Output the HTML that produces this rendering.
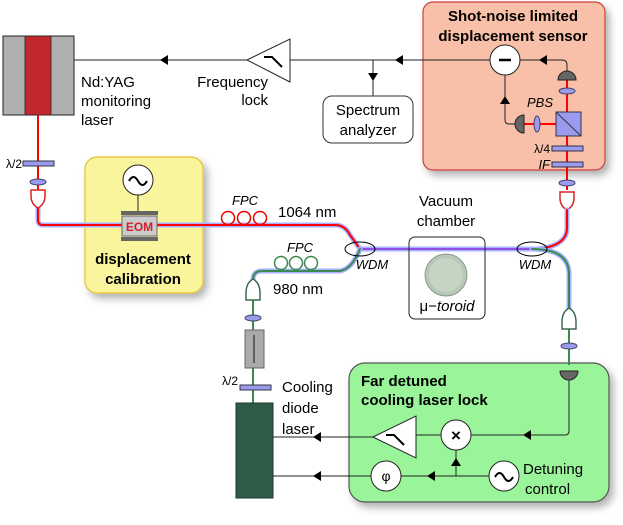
<!DOCTYPE html>
<html><head><meta charset="utf-8"><style>body{margin:0;background:#fff}svg{display:block;font-family:"Liberation Sans",sans-serif}</style></head><body>
<svg width="623" height="525" viewBox="0 0 623 525" xmlns="http://www.w3.org/2000/svg">
<defs>
<marker id="a" viewBox="0 0 10 10" refX="5" refY="5" markerWidth="8" markerHeight="8" orient="auto"><path d="M0,0L10,5L0,10z" fill="#000"/></marker>
<filter id="sh" x="-10%" y="-10%" width="130%" height="130%"><feDropShadow dx="4" dy="5" stdDeviation="4" flood-color="#000" flood-opacity="0.3"/></filter>
</defs>
<!-- boxes -->
<rect x="423" y="2" width="182" height="168" rx="10" fill="#f8c0a8" stroke="#c84040" stroke-width="1.2" filter="url(#sh)"/>
<rect x="85" y="157" width="118" height="136" rx="12" fill="#f9f59d" stroke="#e8c030" stroke-width="1.2" filter="url(#sh)"/>
<rect x="349" y="363" width="260" height="139" rx="16" fill="#9af59a" stroke="#555" stroke-width="1.2" filter="url(#sh)"/>
<!-- laser -->
<rect x="3" y="36" width="71" height="79" fill="#b0b0b0" stroke="#222"/>
<rect x="25" y="36" width="26" height="79" fill="#c0282e" stroke="#222" stroke-width="0.8"/>
<!-- electronics top -->
<line x1="74" y1="60" x2="247" y2="60" stroke="#222"/>
<path d="M160,60 l8,-5 v10z" fill="#000"/>
<path d="M247,60 L290,39 L290,82 Z" fill="#fff" stroke="#222"/>
<path d="M264,57 h8 l10,10" fill="none" stroke="#000" stroke-width="2"/>
<line x1="290" y1="60" x2="490" y2="60" stroke="#222"/>
<path d="M395,60 l8,-5 v10z" fill="#000"/>
<line x1="373" y1="60" x2="373" y2="96" stroke="#222"/>
<path d="M373,81 l-5,-8 h10z" fill="#000"/>
<rect x="323" y="96" width="90" height="47" rx="9" fill="#fff" stroke="#333"/>
<text x="368" y="115" font-size="15" text-anchor="middle">Spectrum</text>
<text x="368" y="135" font-size="15" text-anchor="middle">analyzer</text>
<text x="81" y="87" font-size="15">Nd:YAG</text>
<text x="81" y="106" font-size="15">monitoring</text>
<text x="81" y="125" font-size="15">laser</text>
<text x="268" y="87" font-size="15" text-anchor="end">Frequency</text>
<text x="268" y="105" font-size="15" text-anchor="end">lock</text>
<!-- sensor -->
<text x="513" y="21" font-size="15" font-weight="bold" text-anchor="middle">Shot-noise limited</text>
<text x="513" y="41" font-size="15" font-weight="bold" text-anchor="middle">displacement sensor</text>
<path d="M520,60 H562 q5,0 5,5 V72" fill="none" stroke="#222"/>
<path d="M539,60 l8,-5 v10z" fill="#000"/>
<path d="M505,75 V120 q0,4 4,4 H516" fill="none" stroke="#222"/>
<path d="M505,96 l-5,8 h10z" fill="#000"/>
<circle cx="505" cy="60" r="15" fill="#fff" stroke="#222"/>
<line x1="499" y1="60" x2="511" y2="60" stroke="#000" stroke-width="2.5"/>
<line x1="567" y1="80" x2="567" y2="190" stroke="#f00" stroke-width="2"/>
<line x1="522" y1="124" x2="556" y2="124" stroke="#f00" stroke-width="2"/>
<path d="M558,80 a9,9 0 0 1 18,0z" fill="#666" stroke="#222"/>
<path d="M524,115 a9,9 0 0 0 0,18z" fill="#666" stroke="#222"/>
<ellipse cx="567" cy="91" rx="8" ry="3" fill="#9a9aee" stroke="#446"/>
<ellipse cx="537" cy="124" rx="3" ry="8" fill="#9a9aee" stroke="#446"/>
<rect x="556" y="112" width="25" height="24" fill="#9a9aee" stroke="#334"/>
<line x1="556" y1="112" x2="581" y2="136" stroke="#334"/>
<text x="553" y="107" font-size="13" font-style="italic" text-anchor="end">PBS</text>
<rect x="552" y="146" width="31" height="5" fill="#9a9aee" stroke="#334"/>
<rect x="552" y="162" width="31" height="5" fill="#9a9aee" stroke="#334"/>
<text x="550" y="153" font-size="12" text-anchor="end">λ/4</text>
<text x="550" y="169" font-size="13" font-style="italic" text-anchor="end">IF</text>
<ellipse cx="567" cy="183" rx="8" ry="3" fill="#9a9aee" stroke="#446"/>
<path d="M560,192 h14 v6 q0,8 -7,12 q-7,-4 -7,-12z" fill="#fff" stroke="#d22" stroke-width="1.5"/>
<!-- fibers -->
<g fill="none" stroke-linecap="round">
<path d="M38,208 V220 q0,5 5,5 H335 q10,0 15,10 L360,249" stroke="#aab0ff" stroke-width="5"/>
<path d="M38,208 V220 q0,5 5,5 H335 q10,0 15,10 L360,249" stroke="#f00" stroke-width="2"/>
<path d="M567,210 V228 q0,18 -30,21" stroke="#aab0ff" stroke-width="5"/>
<path d="M567,210 V228 q0,18 -30,21" stroke="#f00" stroke-width="2"/>
<path d="M360,249 L532,249" stroke="#aab0ff" stroke-width="5"/>
<path d="M360,249 L532,249" stroke="#9050e0" stroke-width="2"/>
<path d="M360,249 q-8,20 -20,22 H262 q-9,0 -9,9 V291" stroke="#aab0ff" stroke-width="5"/>
<path d="M360,249 q-8,20 -20,22 H262 q-9,0 -9,9 V291" stroke="#3a8a50" stroke-width="2"/>
<path d="M532,249 q37,0 37,25 V320" stroke="#aab0ff" stroke-width="5"/>
<path d="M532,249 q37,0 37,25 V320" stroke="#3a8a50" stroke-width="2"/>
</g>
<line x1="38" y1="115" x2="38" y2="190" stroke="#f00" stroke-width="2"/>
<rect x="23" y="161" width="31" height="5" fill="#9a9aee" stroke="#334"/>
<text x="22" y="168" font-size="12" text-anchor="end">λ/2</text>
<ellipse cx="38" cy="182" rx="8" ry="3" fill="#9a9aee" stroke="#446"/>
<path d="M31,190 h14 v6 q0,8 -7,12 q-7,-4 -7,-12z" fill="#fff" stroke="#d22" stroke-width="1.5"/>
<g fill="none" stroke="#e00" stroke-width="1.5"><circle cx="228" cy="218" r="6.5"/><circle cx="244" cy="218" r="6.5"/><circle cx="260" cy="218" r="6.5"/></g>
<text x="245" y="205" font-size="13" font-style="italic" text-anchor="middle">FPC</text>
<text x="278" y="217" font-size="15">1064 nm</text>
<g fill="none" stroke="#3a8a50" stroke-width="1.5"><circle cx="281" cy="263" r="6.5"/><circle cx="296" cy="263" r="6.5"/><circle cx="311" cy="263" r="6.5"/></g>
<text x="300" y="252" font-size="13" font-style="italic" text-anchor="middle">FPC</text>
<text x="273" y="294" font-size="15">980 nm</text>
<ellipse cx="360" cy="249" rx="15" ry="7" fill="none" stroke="#000"/>
<ellipse cx="532" cy="249" rx="15" ry="7" fill="none" stroke="#000"/>
<text x="372" y="269" font-size="13" font-style="italic" text-anchor="middle">WDM</text>
<text x="535" y="269" font-size="13" font-style="italic" text-anchor="middle">WDM</text>
<!-- EOM / calib -->
<line x1="138" y1="195" x2="138" y2="212" stroke="#222"/>
<circle cx="138" cy="180" r="15" fill="#fff" stroke="#222"/>
<path d="M129,181 q4.5,-8 9,0 t9,0" fill="none" stroke="#000" stroke-width="2"/>
<rect x="121" y="211" width="37" height="4" fill="#666"/>
<rect x="121" y="237" width="37" height="4" fill="#666"/>
<rect x="122" y="216" width="35" height="20" fill="#ccc" stroke="#666"/>
<text x="139.5" y="231" font-size="12" font-weight="bold" fill="#d02030" text-anchor="middle">EOM</text>
<text x="143" y="264" font-size="15" font-weight="bold" text-anchor="middle">displacement</text>
<text x="143" y="284" font-size="15" font-weight="bold" text-anchor="middle">calibration</text>
<!-- vacuum -->
<text x="446" y="206" font-size="15" text-anchor="middle">Vacuum</text>
<text x="446" y="226" font-size="15" text-anchor="middle">chamber</text>
<rect x="409" y="237" width="76" height="82" rx="6" fill="none" stroke="#222"/>
<circle cx="446" cy="275" r="21" fill="#b8c8b8" stroke="#8a9a8a"/>
<circle cx="446" cy="275" r="17" fill="#c6d4c4"/>
<text x="447" y="311" font-size="15" text-anchor="middle">μ−<tspan font-style="italic">toroid</tspan></text>
<!-- cooling laser chain -->
<line x1="253" y1="291" x2="253" y2="403" stroke="#3a8a50" stroke-width="2"/>
<path d="M246,293 q0,-10 7,-14 q7,4 7,14 v7 h-14z" fill="#fff" stroke="#3a6a50" stroke-width="1.5"/>
<ellipse cx="253" cy="318" rx="8" ry="3" fill="#9a9aee" stroke="#446"/>
<rect x="245" y="330" width="19" height="38" fill="#aaa" stroke="#666"/>
<line x1="254" y1="335" x2="254" y2="363" stroke="#444" stroke-width="1.5"/>
<rect x="240" y="385" width="31" height="5" fill="#9a9aee" stroke="#334"/>
<text x="238" y="385" font-size="12" text-anchor="end">λ/2</text>
<rect x="236" y="403" width="37" height="95" fill="#2f5c48" stroke="#1a3a2a"/>
<text x="282" y="392" font-size="15">Cooling</text>
<text x="282" y="413" font-size="15">diode</text>
<text x="282" y="434" font-size="15">laser</text>
<!-- right coupler -->
<line x1="569" y1="320" x2="569" y2="365" stroke="#3a8a50" stroke-width="2"/>
<path d="M562,322 q0,-10 7,-14 q7,4 7,14 v7 h-14z" fill="#fff" stroke="#3a6a50" stroke-width="1.5"/>
<ellipse cx="569" cy="346" rx="8" ry="3" fill="#9a9aee" stroke="#446"/>
<!-- lock -->
<text x="361" y="386" font-size="15" font-weight="bold">Far detuned</text>
<text x="361" y="405" font-size="15" font-weight="bold">cooling laser lock</text>
<path d="M569,372 V431 q0,4 -4,4 H471" fill="none" stroke="#222"/>
<path d="M523,435 l8,-5 v10z" fill="#000"/>
<path d="M560,371 h18 a9,9 0 0 1 -18,0z" fill="#666" stroke="#222"/>
<line x1="441" y1="435" x2="416" y2="435" stroke="#222"/>
<line x1="373" y1="437" x2="273" y2="437" stroke="#222"/>
<path d="M313,437 l8,-5 v10z" fill="#000"/>
<path d="M373,437 L416,416 L416,458 Z" fill="#fff" stroke="#222"/>
<path d="M386,435 h8 l10,10" fill="none" stroke="#000" stroke-width="2"/>
<circle cx="456" cy="435" r="15" fill="#fff" stroke="#222"/>
<text x="456" y="441" font-size="17" font-weight="bold" text-anchor="middle">×</text>
<line x1="489" y1="476" x2="401" y2="476" stroke="#222"/>
<path d="M427,476 l8,-5 v10z" fill="#000"/>
<line x1="456" y1="476" x2="456" y2="450" stroke="#222"/>
<path d="M456,458 l-5,8 h10z" fill="#000"/>
<line x1="371" y1="476" x2="273" y2="476" stroke="#222"/>
<path d="M313,476 l8,-5 v10z" fill="#000"/>
<circle cx="386" cy="476" r="15" fill="#fff" stroke="#222"/>
<text x="386" y="481" font-size="14" text-anchor="middle">φ</text>
<circle cx="504" cy="476" r="15" fill="#fff" stroke="#222"/>
<path d="M495,477 q4.5,-8 9,0 t9,0" fill="none" stroke="#000" stroke-width="2"/>
<text x="523" y="474" font-size="15">Detuning</text>
<text x="525" y="494" font-size="15">control</text>
</svg>
</body></html>
